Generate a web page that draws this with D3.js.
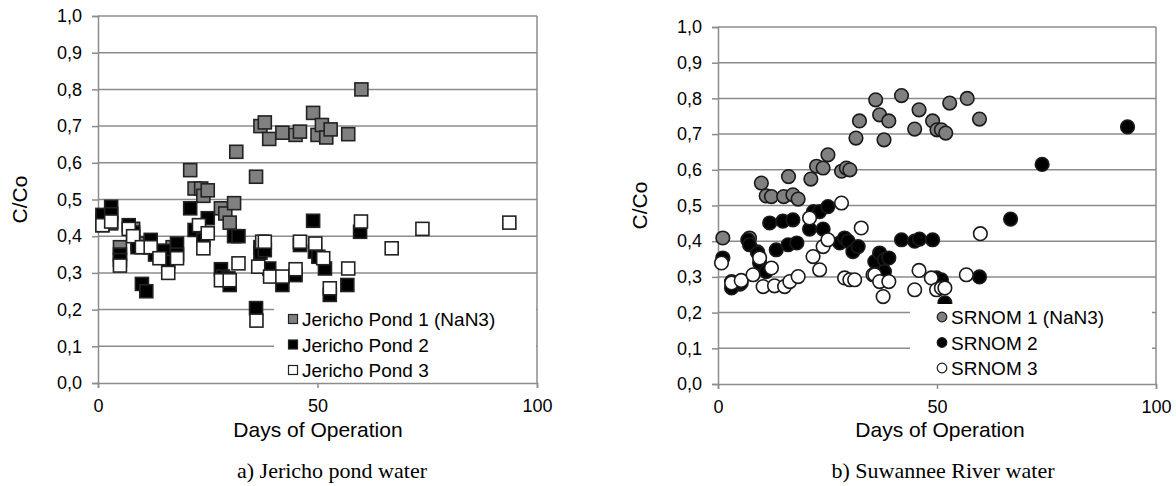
<!doctype html>
<html>
<head>
<meta charset="utf-8">
<script src="https://cdnjs.cloudflare.com/ajax/libs/d3/7.8.5/d3.min.js"></script>
<style>
  body { margin: 0; background: #fff; }
</style>
</head>
<body>
<svg id="chart" width="1176" height="486"></svg>
<script>
// days of operation vs C/Co
var jericho1 = [[1,0.44],[3,0.435],[5,0.37],[8,0.42],[9,0.38],[12,0.37],[14,0.36],[17,0.37],
  [21,0.58],[22,0.53],[23.5,0.53],[24,0.51],[25,0.525],[28,0.476],[29,0.462],[30,0.437],[31,0.49],
  [31.5,0.63],[36,0.562],[37,0.70],[38,0.71],[39,0.665],[42,0.682],[45,0.676],[46,0.685],[49,0.736],
  [50,0.676],[51,0.703],[52,0.669],[53,0.691],[57,0.678],[60,0.80]];
var jericho2 = [[1,0.458],[1,0.43],[3,0.48],[3,0.46],[5,0.35],[5,0.335],[7,0.43],[8,0.41],[9,0.37],
  [10,0.27],[11,0.25],[12,0.39],[13,0.35],[15,0.36],[16,0.33],[18,0.38],[18,0.35],[21,0.476],
  [22,0.417],[24,0.39],[25,0.449],[28,0.31],[28.5,0.29],[29.7,0.285],[30,0.267],[31,0.40],[32,0.40],
  [36,0.204],[37,0.37],[37,0.355],[38,0.362],[39,0.312],[42,0.267],[45,0.294],[46,0.376],[49,0.442],
  [49.4,0.358],[50.2,0.344],[51.7,0.312],[52.8,0.24],[56.8,0.267],[59.7,0.412]];
var jericho3 = [[1,0.43],[3,0.44],[5,0.32],[7,0.42],[8,0.40],[10,0.37],[12,0.37],[14,0.34],[16,0.30],
  [18,0.34],[23,0.43],[24,0.367],[25,0.408],[28,0.28],[30,0.28],[32,0.326],[36.1,0.17],[36.5,0.317],
  [37.4,0.385],[38,0.385],[39.2,0.29],[42,0.29],[45,0.31],[46,0.385],[49.5,0.38],[51.3,0.34],
  [52.8,0.258],[57,0.312],[59.9,0.44],[66.9,0.367],[73.9,0.42],[93.7,0.437]];

var srnom1 = [[1.1,0.409],[3.1,0.287],[5,0.28],[7.2,0.409],[9,0.37],[9.9,0.563],[11,0.527],[12.2,0.525],
  [15,0.525],[16.1,0.581],[17.1,0.53],[18.3,0.518],[21.2,0.574],[22.5,0.61],[24,0.605],[25.1,0.642],
  [28.2,0.596],[29.3,0.605],[30.1,0.60],[31.5,0.689],[32.3,0.737],[36,0.796],[36.9,0.754],[37.9,0.684],
  [39,0.737],[41.9,0.808],[44.9,0.714],[45.9,0.768],[49,0.737],[50,0.712],[51,0.712],[52,0.703],
  [52.9,0.787],[56.9,0.80],[59.7,0.742]];
var srnom2 = [[1.1,0.353],[3.1,0.269],[5.3,0.283],[6.8,0.404],[7.2,0.39],[9.1,0.367],[9.5,0.339],[11,0.315],
  [11.8,0.451],[13.3,0.376],[14.8,0.456],[16,0.39],[17.1,0.46],[18,0.395],[20.9,0.434],[21.8,0.483],
  [23.2,0.483],[24,0.434],[25.1,0.497],[27.8,0.395],[28.9,0.409],[29.7,0.40],[30.8,0.371],[32,0.385],
  [35.8,0.343],[36.9,0.367],[38,0.348],[38,0.315],[39,0.353],[41.9,0.404],[44.9,0.40],[46,0.406],
  [49,0.404],[49.9,0.297],[51,0.292],[51.8,0.227],[59.7,0.30],[66.8,0.462],[74,0.615],[93.5,0.72]];
var srnom3 = [[0.8,0.339],[3.1,0.283],[5.3,0.29],[8,0.306],[9.5,0.353],[10.3,0.273],[12.2,0.325],
  [12.9,0.275],[15.2,0.273],[16.4,0.287],[18.3,0.301],[20.9,0.465],[21.7,0.357],[23.2,0.32],[24,0.385],
  [25.1,0.404],[28.2,0.507],[28.9,0.297],[30.1,0.292],[31.2,0.292],[32.7,0.437],[35.4,0.306],
  [35.8,0.306],[36.9,0.287],[37.7,0.245],[39,0.287],[44.9,0.264],[45.9,0.318],[48.7,0.297],
  [49.9,0.264],[51,0.269],[51.8,0.269],[56.7,0.306],[59.9,0.421]];

var xTicks = [0, 50, 100];
var yTicks = [0, 0.1, 0.2, 0.3, 0.4, 0.5, 0.6, 0.7, 0.8, 0.9, 1.0];
var fills = ["#808080", "#000000", "#ffffff"];
var namesA = ["Jericho Pond 1 (NaN3)", "Jericho Pond 2", "Jericho Pond 3"];
var namesB = ["SRNOM 1 (NaN3)", "SRNOM 2", "SRNOM 3"];

var sans = "Liberation Sans, Arial, sans-serif";
var serif = "Liberation Serif, Times New Roman, serif";
var svg = d3.select("#chart");
var fmt = d3.format(".1f");

function panel(o) {
  var x = d3.scaleLinear().domain([0, 100]).range([o.x0, o.x1]);
  var y = d3.scaleLinear().domain([0, 1]).range([o.y0, o.y1]);
  var g = svg.append("g");

  g.selectAll(".grid").data(yTicks.slice(1)).enter().append("line")
    .attr("x1", o.x0).attr("x2", o.x1)
    .attr("y1", d => y(d)).attr("y2", d => y(d))
    .attr("stroke", "#8c8c8c").attr("stroke-width", 1.5);
  g.append("line").attr("x1", o.x1).attr("x2", o.x1).attr("y1", o.y1).attr("y2", o.y0)
    .attr("stroke", "#8c8c8c").attr("stroke-width", 1.5);

  var ya = g.append("g").attr("transform", "translate(" + o.x0 + ",0)")
    .call(d3.axisLeft(y).tickValues(yTicks).tickSize(6).tickPadding(10)
      .tickFormat(d => fmt(d).replace(".", ",")));
  var xa = g.append("g").attr("transform", "translate(0," + o.y0 + ")")
    .call(d3.axisBottom(x).tickValues(xTicks).tickSize(5).tickPadding(11));
  [ya, xa].forEach(a => {
    a.select(".domain").attr("stroke", "#8c8c8c").attr("stroke-width", 1.5);
    a.selectAll(".tick line").attr("stroke", "#8c8c8c").attr("stroke-width", 1.5);
    a.selectAll("text").attr("font-size", 18).attr("fill", "#000").attr("font-family", sans);
  });

  o.series.forEach((s, i) => {
    var m = g.append("g");
    if (o.shape == "square") {
      m.selectAll("rect").data(s).enter().append("rect")
        .attr("x", d => x(d[0]) - 6.5).attr("y", d => y(d[1]) - 6.5)
        .attr("width", 13).attr("height", 13)
        .attr("fill", fills[i]).attr("stroke", "#222").attr("stroke-width", 1.6);
    } else {
      m.selectAll("circle").data(s).enter().append("circle")
        .attr("cx", d => x(d[0])).attr("cy", d => y(d[1])).attr("r", 6.8)
        .attr("fill", fills[i]).attr("stroke", "#1a1a1a").attr("stroke-width", 1.6);
    }
  });

  // legend
  var lg = g.append("g");
  lg.append("rect").attr("x", o.lx).attr("y", o.ly).attr("width", o.lw).attr("height", o.lh)
    .attr("fill", "#fff");
  o.names.forEach((n, i) => {
    var cy = o.ly + 13 + i * 25.5;
    if (o.shape == "square") {
      lg.append("rect").attr("x", o.mx - 4.5).attr("y", cy - 4.5).attr("width", 9).attr("height", 9)
        .attr("fill", fills[i]).attr("stroke", "#222").attr("stroke-width", 1.2);
    } else {
      lg.append("circle").attr("cx", o.mx).attr("cy", cy).attr("r", 4.8)
        .attr("fill", fills[i]).attr("stroke", "#1a1a1a").attr("stroke-width", 1.2);
    }
    lg.append("text").attr("x", o.mx + 9).attr("y", cy + 7).attr("font-size", 19)
      .attr("font-family", sans).text(n);
  });

  g.append("text").attr("transform", "translate(" + o.ytx + "," + ((o.y0 + o.y1) / 2) + ") rotate(-90)")
    .attr("text-anchor", "middle").attr("font-size", 21).attr("font-family", sans).text("C/Co");
  g.append("text").attr("x", o.xtx).attr("y", 437).attr("text-anchor", "middle")
    .attr("font-size", 21).attr("font-family", sans).text("Days of Operation");
  g.append("text").attr("x", o.ttx).attr("y", 478).attr("text-anchor", "middle")
    .attr("font-size", 22).attr("font-family", serif).text(o.title);
}

panel({x0: 98, x1: 537, y0: 383, y1: 16, series: [jericho1, jericho2, jericho3], shape: "square",
  names: namesA, lx: 274, ly: 306, lw: 262, lh: 76, mx: 293, ytx: 27, xtx: 318, ttx: 332,
  title: "a) Jericho pond water"});
panel({x0: 718, x1: 1156, y0: 384, y1: 27, series: [srnom1, srnom2, srnom3], shape: "circle",
  names: namesB, lx: 910, ly: 304, lw: 242, lh: 78, mx: 942, ytx: 647, xtx: 940, ttx: 943,
  title: "b) Suwannee River water"});
</script>
</body>
</html>
